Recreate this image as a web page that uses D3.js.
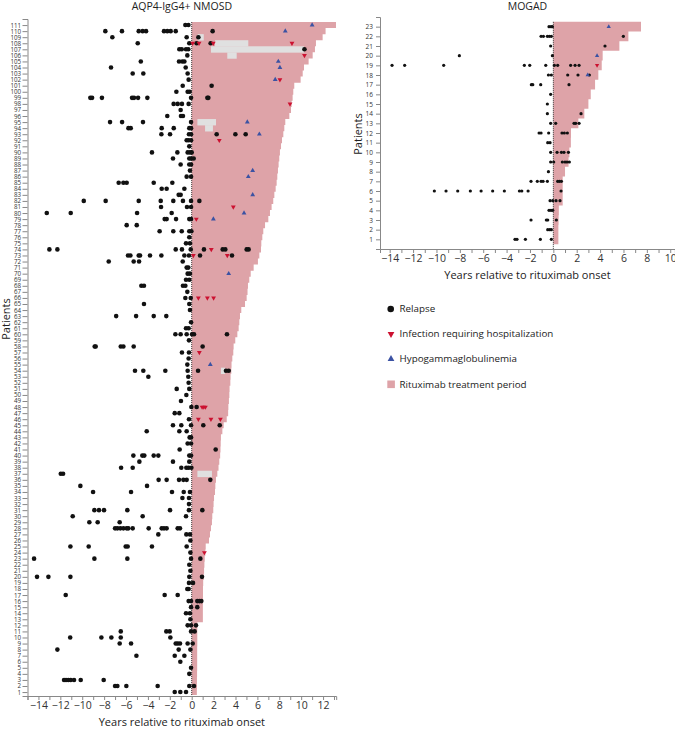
<!DOCTYPE html>
<html>
<head>
<meta charset="utf-8">
<script src="https://cdn.jsdelivr.net/npm/d3@7"></script>
<style>
body{margin:0;background:#fff;}
svg{font-family:"Open Sans",sans-serif;}
</style>
</head>
<body>
<script>
// AQP4-IgG4+ NMOSD, patients 1..111 : end of rituximab period (years)
const nmosdEnd=[0.47,0.48,0.48,0.49,0.5,0.5,0.5,0.5,0.51,0.51,0.51,0.51,
 1.02,1.02,1.02,1.03,1.03,1.03,1.05,1.1,1.13,1.16,1.19,1.25,1.28,1.58,1.67,1.76,1.85,1.88,
 1.97,2.0,2.04,2.13,2.16,2.22,2.34,2.45,2.52,2.6,2.63,2.65,2.67,2.8,2.92,3.2,3.33,3.35,3.4,3.44,
 3.46,3.53,3.55,3.62,3.64,3.71,3.8,3.83,3.98,4.17,4.29,4.35,4.41,4.53,4.87,5.02,5.1,5.14,5.26,5.39,
 5.66,6.05,6.18,6.33,6.36,6.45,6.54,6.7,7.0,7.15,7.3,7.45,7.55,7.67,7.76,7.82,7.88,7.94,8.0,8.06,
 8.16,8.25,8.37,8.46,8.55,8.92,9.07,9.13,9.22,9.28,9.37,9.95,10.14,10.26,10.68,11.05,11.26,11.35,11.96,12.23,13.18];

// [patient, relapse years...]
const nmosdRelapse=[
 [111,-0.58,-0.3],[110,-7.89,-6.37,-4.84,-4.48,-4.17,-2.53,-2.23,-1.92,-1.46,1.91],[109,-7.25,-0.46,0.61],
 [108,-4.93,-0.22,0.45,1.73],[107,-1.13,-0.91,-0.52,-0.31,10.3],[106,-0.4],[105,-4.65,-1.16,-0.86,-0.67],
 [104,-7.37,-0.55],[103,-5.39,-4.42,-0.37],[102,-0.28],[101,-0.82,1.82],[100,-1.4,-0.37,-0.19],
 [99,-9.26,-9.1,-8.2,-5.45,-5.27,-4.9,-4.05,-0.06,1.43,1.52],[98,-1.65,-1.28,-0.89,-0.28],[97,-1.01],
 [96,-2.23,-0.98,-0.8],[95,-7.46,-6.36,-4.45,-0.06],[94,-5.78,-5.57,-2.74,-1.64,-0.22,-0.06],
 [93,-2.77,-1.98,-0.25,-0.06,2.28,3.99,4.93],[92,-0.46,-0.28,-0.06],[91,-0.22],[90,-3.63,-1.31,-0.37,-0.16,0],
 [89,-1.71,-0.22,-0.06,0.18],[88,-1.01,-0.22,-0.06],[87,-0.16],[86,-0.46,-0.06],[85,-6.67,-6.24,-5.94,-3.47,-1.77],
 [84,-2.74,-2.29,-0.67],[83,-1.19,-1.01],[82,-9.86,-7.86,-4.84,-2.83,-1.68,-0.8,-0.06,0.7],[81,-2.8,-0.43,-0.06],
 [80,-13.24,-11.05,-4.99,-1.83],[79,-2.47,-2.29,-1.43,-0.22,-0.06],[78,-5.94,-5.02],[77,-2.93,-1.68,-0.91,-0.22,-0.03],
 [76,-0.22],[75,-0.52,-0.16],[74,-13,-12.27,-1.46,-0.89,-0.09,1.12,2.83,3.07,5.02,5.2],
 [73,-5.82,-5.6,-4.84,-4.72,-3.81,-2.77,-0.67,-0.25,0.76,3.68],[72,-7.58,-5.3,-4.81,-0.82],[71,-0.46,-0.31],
 [70,-0.37,-0.16],[69,-0.52,-0.22],[68,-4.6,-4.36,-0.8,-0.58],[67,-0.4],[66,-0.58,-0.09],[65,-4.36,-0.22],
 [64,-0.16],[63,-6.9,-5.08,-3.47,-2.32],[62,-0.06],[61,-0.52,-0.28],[60,-1.49,-1.01,-0.46,0.03,0.21,3.22],
 [59,-0.25],[58,-8.86,-8.77,-6.48,-6.24,-5.3,1.0],[57,-0.89,-0.25],[56,-0.28],[55,-0.4],
 [54,-5.18,-4.42,-2.41,-0.37,0.58,3.13,3.38],[53,-3.96,-0.31],[52,-0.28],[51,-1.37,-0.22],[50,-0.49],[49,-0.98],
 [48,-0.03,0.45],[47,-1.55,-1.13],[46,-0.25],[45,-1.71,-0.95,-0.06,1.06,2.56],[44,-4.11,-1.13,-0.46],
 [43,-0.19,-0.06],[42,-0.37,-0.06],[41,-1.1,2.19],[40,-5.33,-4.51,-4.33,-3.47,-3.05,-0.22,-0.06],
 [39,-4.78,-1.71,-0.22],[38,-6.45,-5.39,-0.95,-0.49,-0.28,-0.03],[37,-11.96,-11.75],
 [36,-3.02,-2.29,-1.16,-0.76,-0.46,1.7],[35,-10.17,-4.08],[34,-9.01,-5.54,-1.8,-0.73,-0.16],[33,-0.85,-0.25],
 [32,-0.25],[31,-8.89,-8.47,-8.01,-5.88,-1.98,-0.25,0.97],[30,-10.87,-4.48,-0.52],[29,-9.35,-8.59,-6.58],
 [28,-7.0,-6.79,-6.52,-6.24,-5.94,-5.79,-5.39,-3.93,-2.74,-2.53,-2.29,-1.28,-1.07],[27,-3.05,-0.49,-0.16],
 [26,-0.12],[25,-11.08,-9.41,-6.03,-5.85,-3.63,-0.46],[24,-0.12],[23,-14.4,-8.89,-5.88,-0.06,0.79],[22,-0.22],
 [21,-0.12],[20,-14.13,-13.09,-11.08,-0.22,0.94],[19,-0.25,0.12],[18,-0.4,-0.28],[17,-11.51,-2.47,-1.28],
 [16,-0.28,-0.06,0.51,0.7,0.88],[15,-0.06,0.51],[14,-0.52,-0.16],[13,-0.12],[12,-0.37,-0.06,0.39],
 [11,-6.48,-2.32,-2.01,-0.06,0.27],[10,-11.1,-8.25,-7.34,-6.48,-1.95],[9,-6.58,-5.54,-1.46,-1.28,-1.07,-0.37,0.09],
 [8,-12.27,-1.19,-0.12],[7,-5.05,-1.55,-0.67],[6,-1.04],[5,-0.06],[4,-0.22],
 [3,-11.66,-11.48,-11.27,-11.05,-10.75,-10.14,-8.04],[2,-7.0,-6.79,-5.97,-3.11,-0.22,0.21],[1,-1.55,-1.04,-0.52]];

const nmosdInfection=[[108,0.09],[108,0.67],[108,1.97],[108,9.16],[106,10.3],[102,8.06],[98,8.98],[92,2.52],
 [81,3.8],[79,0.42],[74,1.79],[73,0.15],[73,3.25],[66,0.61],[66,1.43],[66,2.0],[57,0.7],[48,0.95],[48,1.1],
 [48,1.25],[46,0.61],[46,1.76],[46,2.62],[24,1.16]];

const nmosdHypo=[[111,11.0],[110,8.55],[105,7.91],[104,8.06],[102,7.63],[95,5.08],[93,6.18],[87,5.57],
 [86,5.17],[83,5.57],[80,4.78],[79,1.98],[70,3.38],[55,1.7]];

// treatment interruptions [patient, from, to]
const nmosdGaps=[[109,0.55,1.1],[108,2.13,5.17],[107,1.76,10.26],[106,3.25,4.11],[95,0.52,2.22],
 [94,1.22,1.94],[54,2.67,3.05],[37,0.52,1.85]];

// MOGAD, patients 1..23
const mogEnd=[0.43,0.43,0.45,0.47,0.8,0.8,0.8,1.0,1.3,1.37,1.5,1.51,2.14,2.65,3.0,3.2,3.57,3.85,4.14,4.22,5.65,6.42,7.5];

const mogRelapse=[
 [23,-0.37,-0.2,-0.08],[22,-1.05,-0.85,-0.51,-0.34,-0.17,5.99],[21,-0.23,4.42],[20,-8.04,-0.08],
 [19,-13.8,-12.72,-9.38,-2.48,-2.02,-0.65,0.09,0.37,1.48,1.86,2.2],[18,-0.42,-0.17,1.23,2.11,3.08],
 [17,-1.88,-1.76,-1.08,1.34],[16,-0.23],[15,-0.51],[14,-0.51,2.37],[13,-0.23,0.2,1.77,1.91,2.2],
 [12,-1.22,-1.05,-0.4,0.74,0.94,1.2],[11,-0.48,-0.28],[10,-0.23,0.32,0.69,0.91,1.29],
 [9,-0.23,0.03,0.77,1.0,1.17,1.37],[8,-0.42],[7,-1.91,-1.37,-1.05,-0.88,-0.51,0.37,0.52,0.69],
 [6,-10.18,-9.18,-8.18,-7.1,-6.18,-5.19,-4.19,-2.9,-2.7,-2.16,0.66],[5,-0.28,-0.05,0.23,0.57],
 [4,-0.37,-0.2,-0.05],[3,-1.91,-0.6,-0.48,0.26],[2,-0.48,-0.31,-0.17],[1,-3.28,-3.11,-2.39,-1.11,-0.17]];

const mogInfection=[[19,3.74]];
const mogHypo=[[23,4.74],[20,3.74],[18,2.94]];

const legendLabels=["Relapse","Infection requiring hospitalization","Hypogammaglobulinemia","Rituximab treatment period"];

const pink="#dea3a8", gapGrey="#e0e0e0", red="#cc1130", blue="#3b52a3";

const svg=d3.select("body").append("svg").attr("width",675).attr("height",729);

function panel(o){
  const x=d3.scaleLinear().domain(o.xd).range(o.xr);
  const y=d3.scaleLinear().domain(o.yd).range(o.yr);
  const g=svg.append("g");
  const n=o.ends.length;

  // treatment periods as one stepped shape (no seams between rows)
  const p=d3.path();
  p.moveTo(x(0),y(0.5));
  o.ends.forEach((d,i)=>{ p.lineTo(x(d),y(i+0.5)); p.lineTo(x(d),y(i+1.5)); });
  p.lineTo(x(0),y(n+0.5));
  p.closePath();
  g.append("path").attr("d",p.toString()).attr("fill",pink);

  g.selectAll("rect.gap").data(o.gaps||[]).join("rect")
    .attr("x",d=>x(d[1])).attr("width",d=>x(d[2])-x(d[1]))
    .attr("y",d=>y(d[0]+0.5)).attr("height",d=>y(d[0]-0.5)-y(d[0]+0.5)+0.3)
    .attr("fill",gapGrey);

  g.append("line").attr("x1",x(0)).attr("x2",x(0))
    .attr("y1",y(n+0.5)).attr("y2",o.yr[0])
    .attr("stroke","#222").attr("stroke-width",0.9).attr("stroke-dasharray","1,1");

  const pts=o.relapse.flatMap(r=>r.slice(1).map(v=>[r[0],v]));
  g.selectAll("circle").data(pts).join("circle")
    .attr("cx",d=>x(d[1])).attr("cy",d=>y(d[0])).attr("r",o.r).attr("fill","#111");

  const tri=d3.symbol(d3.symbolTriangle,o.ts);
  g.selectAll("path.inf").data(o.infection).join("path")
    .attr("d",tri).attr("fill",red)
    .attr("transform",d=>`translate(${x(d[1])},${y(d[0])}) rotate(180)`);
  g.selectAll("path.hyp").data(o.hypo).join("path")
    .attr("d",tri).attr("fill",blue)
    .attr("transform",d=>`translate(${x(d[1])},${y(d[0])})`);

  const xa=g.append("g").attr("transform",`translate(0,${o.yr[0]})`)
    .call(d3.axisBottom(x).tickValues(d3.range(Math.ceil(o.xd[0]),Math.floor(o.xd[1])+1))
      .tickSize(4).tickPadding(2).tickFormat(d=>d%2===0?d3.format("")(d):""));
  const ya=g.append("g").attr("transform",`translate(${o.xr[0]},0)`)
    .call(d3.axisLeft(y).tickValues(d3.range(1,n+1)).tickSize(o.tick).tickPadding(o.pad).tickFormat(d3.format("d")));
  [xa,ya].forEach(a=>{
    a.select(".domain").attr("stroke","#888");
    a.selectAll(".tick line").attr("stroke","#888");
    a.selectAll("text").attr("fill","#333").style("font-family","Open Sans");
  });
  xa.selectAll("text").style("font-size","10.5px");
  ya.selectAll("text").style("font-size",o.yfs);

  const cx=(o.xr[0]+o.xr[1])/2;
  svg.append("text").attr("x",cx).attr("y",o.titleY).attr("text-anchor","middle")
    .style("font-size","10.5px").attr("fill","#222").text(o.title);
  svg.append("text").attr("x",cx).attr("y",o.xlabY).attr("text-anchor","middle")
    .style("font-size","11px").attr("fill","#222").text("Years relative to rituximab onset");
  svg.append("text").attr("transform",`translate(${o.ylabX},${o.ylabY}) rotate(-90)`)
    .attr("text-anchor","middle").style("font-size","11px").attr("fill","#222").text("Patients");
}

panel({ends:nmosdEnd,relapse:nmosdRelapse,infection:nmosdInfection,hypo:nmosdHypo,gaps:nmosdGaps,
  xd:[-15,13.2],xr:[27.5,336.2],yd:[0.35,112],yr:[696,19],r:2.3,ts:10,tick:5,pad:1.5,yfs:"6.2px",
  title:"AQP4-IgG4+ NMOSD",titleY:10,xlabY:726,ylabX:9.5,ylabY:319});

panel({ends:mogEnd,relapse:mogRelapse,infection:mogInfection,hypo:mogHypo,gaps:[],
  xd:[-14.83,10.4],xr:[380,674.9],yd:[0,24],yr:[249,17],r:1.6,ts:8,tick:4,pad:3,yfs:"6.5px",
  title:"MOGAD",titleY:10,xlabY:279,ylabX:361.5,ylabY:134});

// legend
const lg=svg.append("g");
const ly=[309,334,359,384.3];
lg.append("circle").attr("cx",390.7).attr("cy",ly[0]).attr("r",3.3).attr("fill","#111");
lg.append("path").attr("d",d3.symbol(d3.symbolTriangle,20)).attr("fill",red)
  .attr("transform",`translate(391,${ly[1]}) rotate(180)`);
lg.append("path").attr("d",d3.symbol(d3.symbolTriangle,20)).attr("fill",blue)
  .attr("transform",`translate(391,${ly[2]})`);
lg.append("rect").attr("x",387.3).attr("y",ly[3]-3.8).attr("width",7.6).attr("height",7.6).attr("fill",pink);
lg.selectAll("text").data(legendLabels).join("text")
  .attr("x",399.5).attr("y",(d,i)=>ly[i]+3.4).style("font-size","9.8px").attr("fill","#222").text(d=>d);
</script>
</body>
</html>
